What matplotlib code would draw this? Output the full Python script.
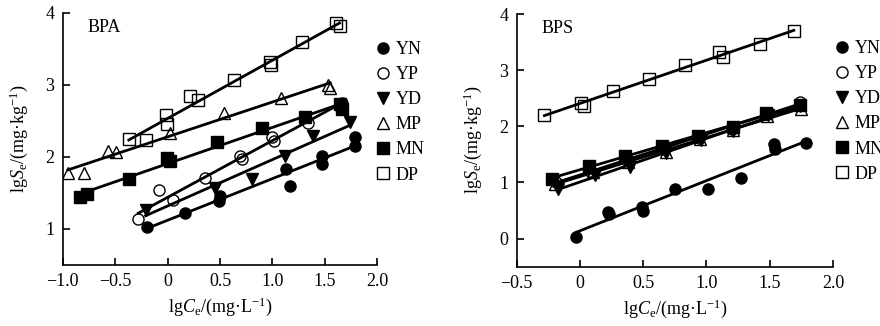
import numpy as np
import matplotlib
matplotlib.use("Agg")
import matplotlib.pyplot as plt

plt.rcParams['font.family'] = ['Liberation Serif', 'DejaVu Serif']
plt.rcParams['mathtext.fontset'] = 'custom'
plt.rcParams['mathtext.rm'] = 'Liberation Serif'
plt.rcParams['mathtext.it'] = 'Liberation Serif:italic'
plt.rcParams['font.size'] = 13

series = ['YN', 'YP', 'YD', 'MP', 'MN', 'DP']

# BPA panel
bpa_x = {
    'YN': [-0.20, 0.17, 0.49, 0.50, 1.13, 1.17, 1.47, 1.47, 1.79, 1.79],
    'YP': [-0.28, -0.08, 0.05, 0.36, 0.69, 0.71, 1.00, 1.01, 1.34, 1.66],
    'YD': [-0.21, 0.45, 0.80, 1.12, 1.39, 1.74],
    'MP': [-0.95, -0.80, -0.57, -0.49, 0.02, 0.54, 1.08, 1.53, 1.55],
    'MN': [-0.84, -0.77, -0.37, -0.01, 0.02, 0.47, 0.90, 1.31, 1.64, 1.66],
    'DP': [-0.37, -0.21, -0.02, -0.01, 0.21, 0.29, 0.63, 0.98, 0.99, 1.28, 1.61, 1.64],
}
bpa_y = {
    'YN': [1.03, 1.22, 1.39, 1.46, 1.83, 1.60, 2.01, 1.90, 2.27, 2.15],
    'YP': [1.14, 1.54, 1.40, 1.71, 2.01, 1.97, 2.27, 2.22, 2.47, 2.75],
    'YD': [1.27, 1.57, 1.70, 2.01, 2.29, 2.48],
    'MP': [1.78, 1.78, 2.08, 2.07, 2.33, 2.61, 2.82, 3.00, 2.96],
    'MN': [1.44, 1.48, 1.69, 1.98, 1.94, 2.20, 2.40, 2.56, 2.73, 2.66],
    'DP': [2.25, 2.24, 2.58, 2.45, 2.84, 2.79, 3.07, 3.32, 3.27, 3.59, 3.86, 3.81],
}

# BPS panel
bps_x = {
    'YN': [-0.03, 0.22, 0.23, 0.49, 0.50, 0.75, 1.01, 1.27, 1.53, 1.54, 1.79],
    'YP': [-0.19, 0.08, 0.37, 0.66, 0.94, 1.20, 1.47, 1.74],
    'YD': [-0.17, 0.12, 0.40, 0.68, 0.96, 1.21, 1.49, 1.74],
    'MP': [-0.20, 0.10, 0.38, 0.68, 0.95, 1.21, 1.48, 1.75],
    'MN': [-0.22, 0.07, 0.36, 0.65, 0.93, 1.21, 1.47, 1.74],
    'DP': [-0.28, 0.01, 0.03, 0.26, 0.55, 0.83, 1.10, 1.13, 1.42, 1.69],
}
bps_y = {
    'YN': [0.03, 0.48, 0.43, 0.56, 0.50, 0.88, 0.88, 1.08, 1.68, 1.60, 1.71],
    'YP': [1.00, 1.20, 1.42, 1.60, 1.80, 1.96, 2.22, 2.43],
    'YD': [0.89, 1.13, 1.28, 1.52, 1.75, 1.92, 2.20, 2.36],
    'MP': [0.97, 1.18, 1.37, 1.55, 1.77, 1.93, 2.18, 2.30],
    'MN': [1.07, 1.30, 1.47, 1.65, 1.82, 1.98, 2.24, 2.38],
    'DP': [2.20, 2.41, 2.36, 2.63, 2.85, 3.09, 3.33, 3.24, 3.46, 3.69],
}

style = {
    'YN': dict(marker='o', mfc='black'),
    'YP': dict(marker='o', mfc='none'),
    'YD': dict(marker='v', mfc='black'),
    'MP': dict(marker='^', mfc='none'),
    'MN': dict(marker='s', mfc='black'),
    'DP': dict(marker='s', mfc='none'),
}


def panel(ax, xs, ys, name, xlim, ylim, xticks, xlabels, yticks, leg_anchor):
    for s in series:
        x = np.array(xs[s])
        y = np.array(ys[s])
        ax.plot(x, y, ls='none', ms=8, mec='black', mew=1.0,
                label=s, zorder=2, **style[s])
        k, b = np.polyfit(x, y, 1)
        xx = np.array([x.min(), x.max()])
        ax.plot(xx, k * xx + b, color='black', lw=2.0, zorder=3)
    ax.set_xlim(*xlim)
    ax.set_ylim(*ylim)
    ax.set_xticks(xticks)
    ax.set_xticklabels(xlabels)
    ax.set_yticks(yticks)
    ax.spines['top'].set_visible(False)
    ax.spines['right'].set_visible(False)
    ax.spines['left'].set_bounds(ylim[0], yticks[-1])
    ax.tick_params(direction='in', length=5, width=1.2, pad=6)
    for sp in ('left', 'bottom'):
        ax.spines[sp].set_linewidth(1.2)
    ax.set_xlabel(r'lg$C_\mathrm{e}$/(mg·L$^{-1}$)')
    ax.set_ylabel(r'lg$S_\mathrm{e}$/(mg·kg$^{-1}$)', labelpad=11)
    ax.text(0.08, 0.975, name, transform=ax.transAxes, ha='left', va='top')
    ax.legend(loc='upper left', bbox_to_anchor=leg_anchor, frameon=False,
              borderpad=0, borderaxespad=0, handlelength=1.0,
              handletextpad=0.2, labelspacing=0.45, markerscale=1.0)


fig = plt.figure(figsize=(8.8, 3.26), dpi=100)
ax1 = fig.add_axes([0.0713, 0.187, 0.3575, 0.774])
ax2 = fig.add_axes([0.587, 0.182, 0.3596, 0.775])

panel(ax1, bpa_x, bpa_y, 'BPA', (-1.0, 2.0), (0.5, 4.0),
      [-1.0, -0.5, 0, 0.5, 1.0, 1.5, 2.0],
      ['\u22121.0', '\u22120.5', '0', '0.5', '1.0', '1.5', '2.0'],
      [1, 2, 3, 4], (0.99, 0.888))
panel(ax2, bps_x, bps_y, 'BPS', (-0.5, 2.0), (-0.5, 4.0),
      [-0.5, 0, 0.5, 1.0, 1.5, 2.0],
      ['\u22120.5', '0', '0.5', '1.0', '1.5', '2.0'],
      [0, 1, 2, 3, 4], (0.999, 0.897))

fig.savefig('out.png', dpi=100)
